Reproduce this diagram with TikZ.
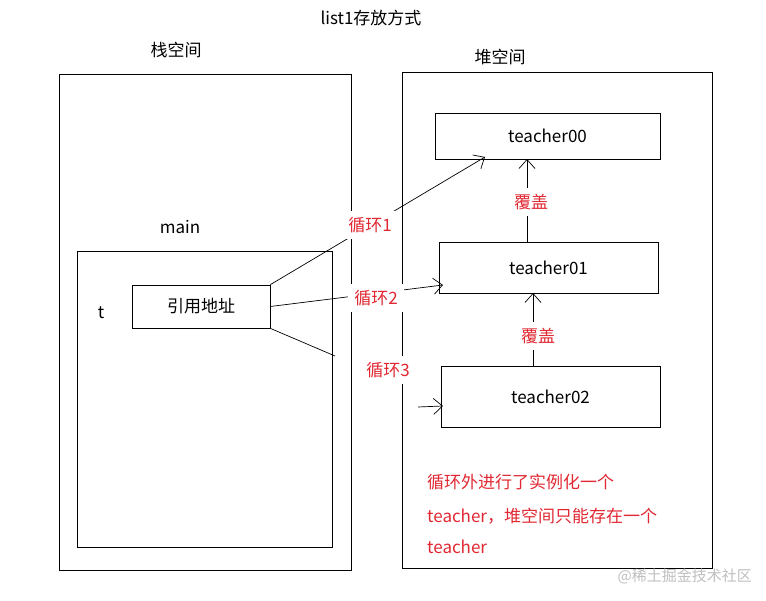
\documentclass[tikz,border=0pt]{standalone}
\usepackage{fontspec}
\setmainfont{Noto Sans CJK SC}
\usetikzlibrary{arrows.meta}
\definecolor{myred}{RGB}{225,40,50}
\begin{document}
\begin{tikzpicture}[x=1pt,y=-1pt,font=\fontsize{17}{20}\selectfont,
  box/.style={draw,line width=0.8pt},
  arr/.style={line width=0.7pt,-{Straight Barb[length=9pt,width=16pt]}},
  lbl/.style={text=myred,fill=white,inner sep=6pt},
  plain/.style={inner sep=0pt}]
\useasboundingbox (0,0) rectangle (766,601);
\node[plain] (title) at (371,18) {list1存放方式};
\node[plain] (stk) at (176,50) {栈空间};
\node[plain] (hp) at (500,57) {堆空间};
\draw[box] (59,74) rectangle (351,570);
\draw[box] (402,72) rectangle (712,568);
\node[plain] (main) at (180,227) {main};
\draw[box] (77,251) rectangle (332,547);
\node[plain] (t) at (101,313) {t};
\node[box,minimum width=138,minimum height=43,inner sep=0pt] (ref) at (201,306.5) {引用地址};
\node[box,minimum width=225,minimum height=46,inner sep=0pt] (t0) at (547.5,136) {teacher00\hspace{30pt}};
\node[box,minimum width=219,minimum height=51,inner sep=0pt] (t1) at (548.5,267.5) {teacher01\hspace{30pt}};
\node[box,minimum width=219,minimum height=61,inner sep=0pt] (t2) at (550.5,396.5) {teacher02\hspace{44pt}};
\coordinate (a3) at (335,356);
\coordinate (b3) at (418,407);
\draw[arr] (ref.north east) -- (485,157);
\draw[arr] (ref.east) -- (443,285);
\draw[line width=0.7pt] (ref.south east) -- (a3);
\draw[arr] (b3) -- (443,406);
\draw[arr] (527,242) -- (527,159);
\draw[arr] (533,366) -- (533,293);
\node[lbl] (l1) at (370,225) {循环1};
\node[lbl] (l2) at (376,298) {循环2};
\node[lbl] (l3) at (388,370) {循环3};
\node[lbl] (c1) at (531,202) {覆盖};
\node[lbl] (c2) at (538,336) {覆盖};
\node[plain,text=myred,anchor=west] (r1) at (427,482) {循环外进行了实例化一个};
\node[plain,text=myred,anchor=west] (r2) at (427,516) {teacher，堆空间只能存在一个};
\node[plain,text=myred,anchor=west] (r3) at (427,547) {teacher};
\node[plain,text=gray!50,anchor=east,font=\fontsize{15}{17}\selectfont] (wm) at (752,576) {@稀土掘金技术社区};
\end{tikzpicture}
\end{document}
